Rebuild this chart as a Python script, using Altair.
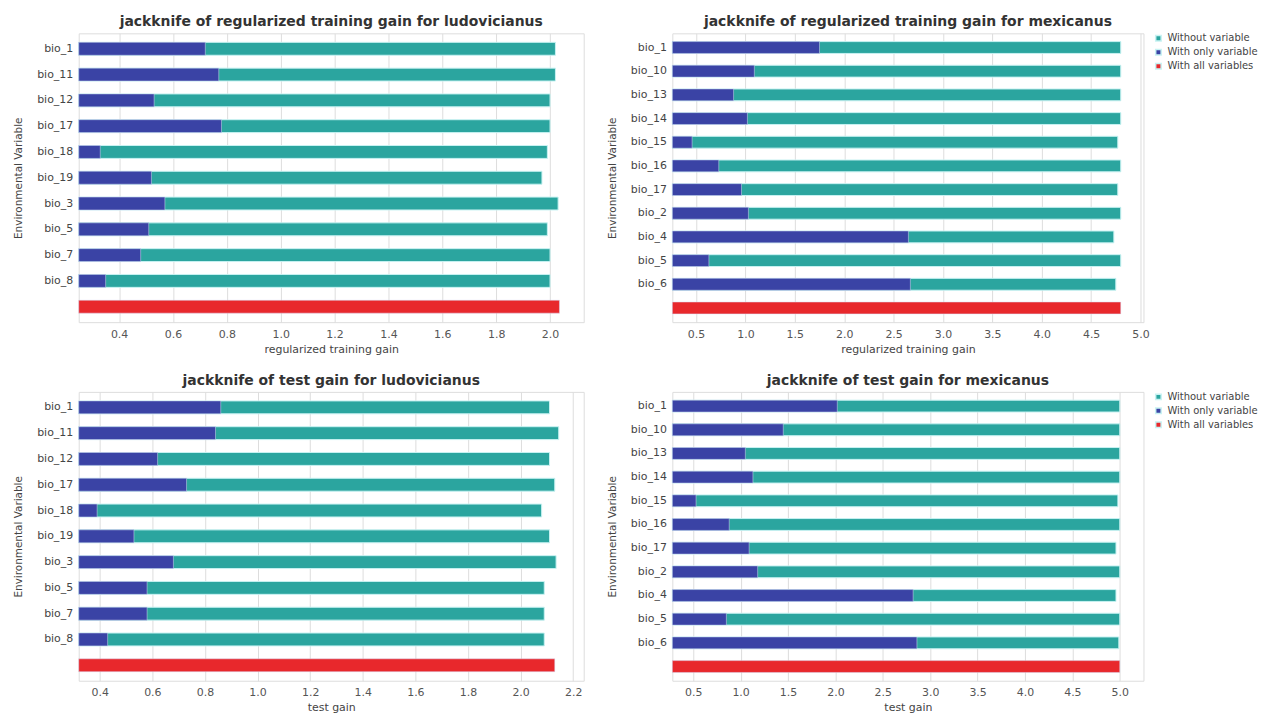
import altair as alt
import pandas as pd

# ---- data ----
lud_vars = ["bio_1", "bio_11", "bio_12", "bio_17", "bio_18", "bio_19", "bio_3", "bio_5", "bio_7", "bio_8"]
mex_vars = ["bio_1", "bio_10", "bio_13", "bio_14", "bio_15", "bio_16", "bio_17", "bio_2", "bio_4", "bio_5", "bio_6"]

lud_train_only = [0.72, 0.77, 0.53, 0.78, 0.33, 0.52, 0.57, 0.51, 0.48, 0.35]
lud_train_without = [2.02, 2.02, 2.00, 2.00, 1.99, 1.97, 2.03, 1.99, 2.00, 2.00]
lud_train_all = 2.035

mex_train_only = [1.75, 1.09, 0.88, 1.02, 0.46, 0.73, 0.96, 1.03, 2.65, 0.63, 2.67]
mex_train_without = [4.80, 4.80, 4.80, 4.80, 4.77, 4.80, 4.77, 4.80, 4.73, 4.80, 4.75]
mex_train_all = 4.80

lud_test_only = [0.86, 0.84, 0.62, 0.73, 0.39, 0.53, 0.68, 0.58, 0.58, 0.43]
lud_test_without = [2.11, 2.145, 2.11, 2.13, 2.08, 2.11, 2.135, 2.09, 2.09, 2.09]
lud_test_all = 2.13

mex_test_only = [2.02, 1.45, 1.05, 1.13, 0.53, 0.88, 1.09, 1.18, 2.82, 0.85, 2.86]
mex_test_without = [5.00, 5.00, 5.00, 5.00, 4.98, 5.00, 4.96, 5.00, 4.96, 5.00, 4.99]
mex_test_all = 5.00

series = ["Without variable", "With only variable", "With all variables"]
colors = ["#2ba59f", "#3a43a5", "#e8282c"]

FONT = "DejaVu Sans"


def panel(title, names, only, without, allv, domain, ticks, xtitle, width, height, show_legend):
    rows = []
    for n, w in zip(names, without):
        rows.append({"var": n, "series": series[0], "value": w})
    for n, o in zip(names, only):
        rows.append({"var": n, "series": series[1], "value": o})
    rows.append({"var": "all", "series": series[2], "value": allv})
    df = pd.DataFrame(rows)
    order = names + ["all"]

    legend = None
    if show_legend:
        legend = alt.Legend(title=None, orient="right", symbolType="square", symbolSize=30,
                            labelFont=FONT, labelFontSize=10, labelColor="#444", offset=10,
                            rowPadding=2)

    base = alt.Chart(df).encode(
        y=alt.Y("var:N", sort=order,
                scale=alt.Scale(paddingInner=0.5, paddingOuter=0.35),
                axis=alt.Axis(title="Environmental Variable", titleFontSize=10.5, titleFontWeight="normal",
                              titleFont=FONT, titleColor="#444", labelFont=FONT, labelFontSize=11,
                              labelColor="#444", ticks=False, domain=False, labelPadding=6,
                              grid=False, titlePadding=13,
                              labelExpr="datum.value == 'all' ? '' : datum.value")),
        x=alt.X("value:Q",
                scale=alt.Scale(domain=domain, nice=False, zero=False),
                axis=alt.Axis(title=xtitle, values=ticks, format=".1f", titleFont=FONT,
                              titleFontSize=11, titleFontWeight="normal", titleColor="#444",
                              labelFont=FONT, labelFontSize=11, labelColor="#555",
                              ticks=False, domain=False, grid=True, gridColor="#dddddd",
                              labelPadding=6, titlePadding=4)),
        x2=alt.datum(domain[0]),
        color=alt.Color("series:N", scale=alt.Scale(domain=series, range=colors), legend=legend),
    )
    back = base.transform_filter(alt.datum.series == series[0]).mark_bar(
        stroke="#c8f2f2", strokeWidth=1)
    front = base.transform_filter(alt.datum.series != series[0]).mark_bar(
        stroke="#d9dcf5", strokeWidth=0.5)
    return alt.layer(back, front).properties(
        width=width, height=height,
        title=alt.TitleParams(title, font=FONT, fontSize=14, fontWeight="bold", color="#333",
                              offset=4),
    )


tl = panel("jackknife of regularized training gain for ludovicianus", lud_vars, lud_train_only,
           lud_train_without, lud_train_all, [0.25, 2.125],
           [0.4, 0.6, 0.8, 1.0, 1.2, 1.4, 1.6, 1.8, 2.0], "regularized training gain",
           507, 290, False)
tr = panel("jackknife of regularized training gain for mexicanus", mex_vars, mex_train_only,
           mex_train_without, mex_train_all, [0.26, 5.03],
           [0.5, 1.0, 1.5, 2.0, 2.5, 3.0, 3.5, 4.0, 4.5, 5.0], "regularized training gain",
           473, 290, True)
bl = panel("jackknife of test gain for ludovicianus", lud_vars, lud_test_only,
           lud_test_without, lud_test_all, [0.32, 2.24],
           [0.4, 0.6, 0.8, 1.0, 1.2, 1.4, 1.6, 1.8, 2.0, 2.2], "test gain",
           507, 290, False)
br = panel("jackknife of test gain for mexicanus", mex_vars, mex_test_only,
           mex_test_without, mex_test_all, [0.28, 5.25],
           [0.5, 1.0, 1.5, 2.0, 2.5, 3.0, 3.5, 4.0, 4.5, 5.0], "test gain",
           473, 290, True)

top = alt.hconcat(tl, tr, spacing=22).resolve_scale(color="independent")
bottom = alt.hconcat(bl, br, spacing=22).resolve_scale(color="independent")

chart = alt.vconcat(top, bottom, spacing=18).resolve_scale(
    color="independent"
).configure_view(
    stroke="#888888", strokeWidth=1
).configure(background="white")

chart.save("out.html", embed_options={"renderer": "svg", "actions": False})
